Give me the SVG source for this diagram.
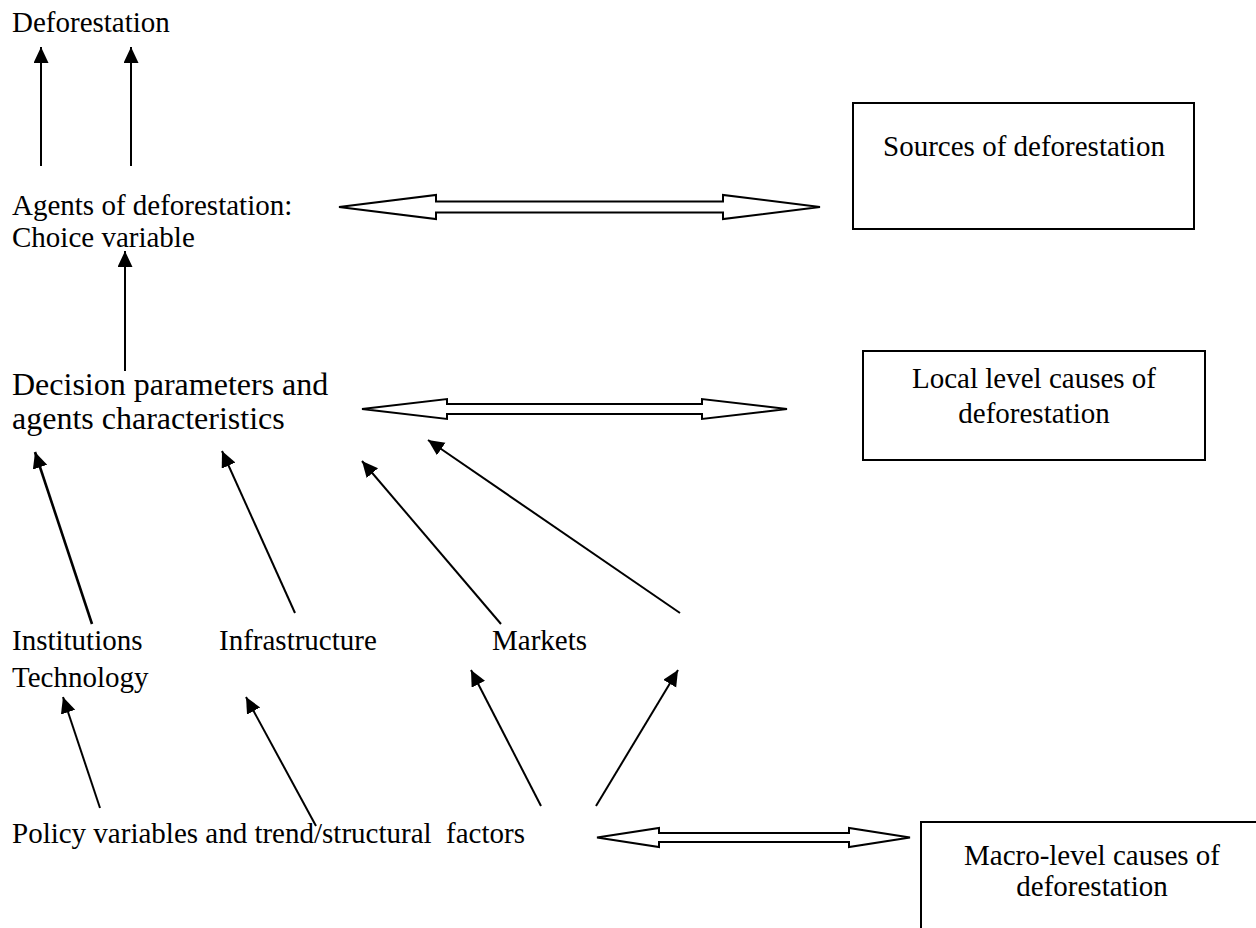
<svg xmlns="http://www.w3.org/2000/svg" width="1256" height="928" viewBox="0 0 1256 928">
<style>
text{font-family:"Liberation Serif","Times New Roman",serif;fill:#000;white-space:pre}
.s{font-size:29px}
.l{font-size:32px}
.c{text-anchor:middle}
.box{fill:#fff;stroke:#000;stroke-width:2}
.ar{stroke:#000;stroke-width:2;fill:none;marker-end:url(#ah)}
.dbl{fill:#fff;stroke:#000;stroke-width:2;stroke-linejoin:miter}
</style>
<defs>
<marker id="ah" markerUnits="userSpaceOnUse" markerWidth="18" markerHeight="16" refX="16" refY="7.5" orient="auto">
<path d="M0,0 L16,7.5 L0,15 Z" fill="#000"/>
</marker>
</defs>
<rect width="1256" height="928" fill="#fff"/>
<g id="deforestation"><text class="s" x="12" y="32">Deforestation</text></g>
<g id="agents"><text class="s" x="12" y="215">Agents of deforestation:</text><text class="s" x="12" y="247">Choice variable</text></g>
<g id="decision"><text class="l" x="12" y="395">Decision parameters and</text><text class="l" x="12" y="429">agents characteristics</text></g>
<g id="institutions"><text class="s" x="12" y="650">Institutions</text></g>
<g id="technology"><text class="s" x="12" y="687">Technology</text></g>
<g id="infrastructure"><text class="s" x="219" y="650">Infrastructure</text></g>
<g id="markets"><text class="s" x="492" y="650">Markets</text></g>
<g id="policy"><text class="s" x="12" y="843">Policy variables and trend/structural  factors</text></g>
<g id="sources"><rect class="box" x="853" y="103" width="341" height="126"/><text class="s c" x="1024" y="156">Sources of deforestation</text></g>
<g id="local"><rect class="box" x="863" y="351" width="342" height="109"/><text class="s c" x="1034" y="388">Local level causes of</text><text class="s c" x="1034" y="423">deforestation</text></g>
<g id="macro"><rect class="box" x="921" y="822" width="345" height="120"/><text class="s c" x="1092" y="865">Macro-level causes of</text><text class="s c" x="1092" y="896">deforestation</text></g>
<g id="connectors">
<line class="ar" x1="41" y1="166" x2="41" y2="47"/>
<line class="ar" x1="131" y1="166" x2="131" y2="47"/>
<line class="ar" x1="125" y1="371" x2="125" y2="251"/>
<line class="ar" x1="92" y1="624" x2="35" y2="452" style="stroke-width:2.6"/>
<line class="ar" x1="295" y1="613" x2="222" y2="451"/>
<line class="ar" x1="501" y1="624" x2="362" y2="461"/>
<line class="ar" x1="680" y1="613" x2="428" y2="440"/>
<line class="ar" x1="100" y1="808" x2="63" y2="697"/>
<line class="ar" x1="316" y1="826" x2="246" y2="697"/>
<line class="ar" x1="541" y1="806" x2="471" y2="670"/>
<line class="ar" x1="596" y1="806" x2="678" y2="670"/>
<path class="dbl" d="M339,207 L436,195 L436,201.5 L723,201.5 L723,195 L820,207 L723,219 L723,212.5 L436,212.5 L436,219 Z"/>
<path class="dbl" d="M362,409 L447,399 L447,404 L702,404 L702,399 L787,409 L702,419 L702,414 L447,414 L447,419 Z"/>
<path class="dbl" d="M597,837.5 L659,828 L659,833 L849,833 L849,828 L910,837.5 L849,847 L849,842 L659,842 L659,847 Z"/>
</g>
</svg>
